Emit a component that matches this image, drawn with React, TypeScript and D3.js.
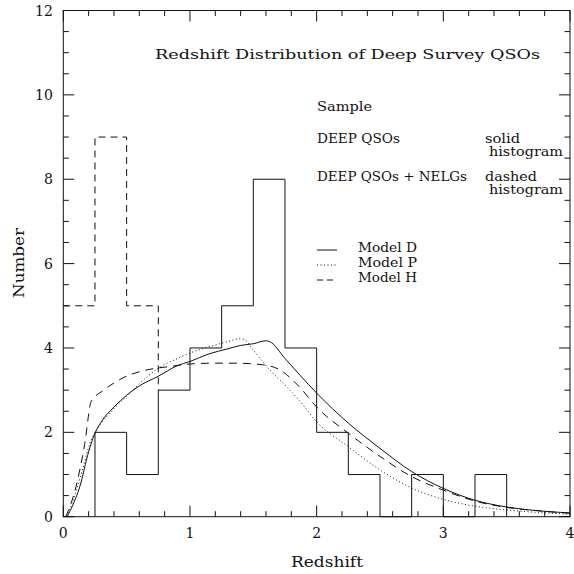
import React from 'react';
import * as d3 from 'd3';

const width = 574;
const height = 574;
const margin = { top: 10.5, right: 4, bottom: 57.3, left: 63.3 };
const ink = '#111';
const font = '"DejaVu Serif", serif';

// histogram bins (left edges, width 0.25 in redshift)
const solidEdges = [0.25, 0.5, 0.75, 1.0, 1.25, 1.5, 1.75, 2.0, 2.25, 2.5, 2.75, 3.0, 3.25, 3.5];
const solidCounts = [2, 1, 3, 4, 5, 8, 4, 2, 1, 0, 1, 0, 1, 0];
const dashedEdges = [0, 0.25, 0.5, 0.75];
const dashedCounts = [5, 9, 5, 3];

// model curves [redshift, number]
const modelD: [number, number][] = [
  [0.03, 0], [0.07, 0.24], [0.13, 0.71], [0.2, 1.54], [0.25, 1.98], [0.3, 2.25], [0.4, 2.6],
  [0.5, 2.88], [0.6, 3.1], [0.75, 3.33], [0.9, 3.58], [1.0, 3.68], [1.15, 3.86], [1.3, 3.98],
  [1.4, 4.06], [1.5, 4.1], [1.6, 4.17], [1.63, 4.15], [1.75, 3.75], [1.87, 3.35], [2.0, 2.93],
  [2.25, 2.22], [2.5, 1.62], [2.75, 1.07], [3.0, 0.67], [3.25, 0.39], [3.5, 0.23], [3.75, 0.14],
  [4.0, 0.09],
];
const modelP: [number, number][] = [
  [0.03, 0], [0.1, 0.6], [0.15, 1.1], [0.21, 1.74], [0.29, 2.18], [0.39, 2.53], [0.5, 2.85],
  [0.6, 3.15], [0.75, 3.52], [0.9, 3.75], [1.0, 3.88], [1.2, 4.07], [1.3, 4.15], [1.39, 4.22],
  [1.43, 4.2], [1.5, 3.95], [1.63, 3.48], [1.76, 3.09], [1.87, 2.73], [2.0, 2.25], [2.25, 1.66],
  [2.5, 1.11], [2.75, 0.68], [3.0, 0.41], [3.25, 0.25], [3.5, 0.16], [3.75, 0.1], [4.0, 0.06],
];
const modelH: [number, number][] = [
  [0.02, 0], [0.1, 0.71], [0.17, 1.74], [0.22, 2.73], [0.32, 3.0], [0.47, 3.29], [0.66, 3.48],
  [0.84, 3.56], [1.0, 3.62], [1.2, 3.64], [1.34, 3.64], [1.58, 3.6], [1.71, 3.48], [1.86, 3.09],
  [2.0, 2.6], [2.25, 1.98], [2.5, 1.43], [2.75, 0.95], [3.0, 0.63], [3.25, 0.37], [3.5, 0.22],
  [3.75, 0.14], [4.0, 0.08],
];

const xTicks = [0, 1, 2, 3, 4];
const yTicks = [0, 2, 4, 6, 8, 10, 12];
const xMinor = d3.range(0, 4.001, 0.2);
const yMinor = d3.range(0, 12.001, 0.5);

const title = 'Redshift Distribution of Deep Survey QSOs';
const sampleRows = [
  { label: 'DEEP QSOs', kind: 'solid' },
  { label: 'DEEP QSOs + NELGs', kind: 'dashed' },
];
const modelRows = [
  { label: 'Model D', dash: 'none' },
  { label: 'Model P', dash: '1,2.5' },
  { label: 'Model H', dash: '6,4' },
];

const x = d3.scaleLinear().domain([0, 4]).range([margin.left, width - margin.right]);
const y = d3.scaleLinear().domain([0, 12]).range([height - margin.bottom, margin.top]);

const stepLine = d3.line<[number, number]>()
  .x((d) => x(d[0]))
  .y((d) => y(d[1]))
  .curve(d3.curveStepAfter);
const modelLine = d3.line<[number, number]>()
  .x((d) => x(d[0]))
  .y((d) => y(d[1]))
  .curve(d3.curveMonotoneX);

export default function App() {
  // solid histogram starts from the baseline at its first edge
  const solidPts: [number, number][] = [[solidEdges[0], 0]];
  solidEdges.forEach((e, i) => solidPts.push([e, solidCounts[i]]));
  const dashedPts: [number, number][] = dashedEdges.map((e, i) => [e, dashedCounts[i]]);

  const x0 = x(0), x1 = x(4), y0 = y(0), y1 = y(12);

  return (
    <svg
      width={width}
      height={height}
      style={{ position: 'absolute', left: 0, top: 0, background: '#fff' }}
      fontFamily={font}
      fill={ink}
    >
      {/* frame */}
      <rect x={x0} y={y1} width={x1 - x0} height={y0 - y1} fill="none" stroke={ink} strokeWidth={1} />

      {/* ticks, inward on all four sides */}
      <g stroke={ink} strokeWidth={1}>
        {xMinor.map((t) => {
          const major = Math.abs(t - Math.round(t)) < 1e-6;
          const len = major ? 11 : 5.5;
          return (
            <g key={'xt' + t}>
              <line x1={x(t)} x2={x(t)} y1={y0} y2={y0 - len} />
              <line x1={x(t)} x2={x(t)} y1={y1} y2={y1 + len} />
            </g>
          );
        })}
        {yMinor.map((t) => {
          const major = Math.abs(t / 2 - Math.round(t / 2)) < 1e-6;
          const len = major ? 11 : 5.5;
          return (
            <g key={'yt' + t}>
              <line x1={x0} x2={x0 + len} y1={y(t)} y2={y(t)} />
              <line x1={x1} x2={x1 - len} y1={y(t)} y2={y(t)} />
            </g>
          );
        })}
      </g>

      {/* tick labels */}
      <g fontSize={14}>
        {xTicks.map((t) => (
          <text key={'xl' + t} x={x(t)} y={y0 + 21.5} textAnchor="middle">{t}</text>
        ))}
        {yTicks.map((t) => (
          <text key={'yl' + t} x={x0 - 10.5} y={y(t) + 5} textAnchor="end">{t}</text>
        ))}
      </g>

      {/* axis titles */}
      <text x={327} y={567} fontSize={14} textAnchor="middle" textLength={72} lengthAdjust="spacingAndGlyphs">Redshift</text>
      <text transform={`translate(24, 263) rotate(-90)`} fontSize={14} textAnchor="middle" textLength={70} lengthAdjust="spacingAndGlyphs">Number</text>

      {/* histograms */}
      <path d={stepLine(solidPts) ?? ''} fill="none" stroke={ink} strokeWidth={1} />
      <path d={stepLine(dashedPts) ?? ''} fill="none" stroke={ink} strokeWidth={1} strokeDasharray="7,5" />

      {/* models */}
      <path d={modelLine(modelD) ?? ''} fill="none" stroke={ink} strokeWidth={1} />
      <path d={modelLine(modelP) ?? ''} fill="none" stroke={ink} strokeWidth={1} strokeDasharray="1,2.5" />
      <path d={modelLine(modelH) ?? ''} fill="none" stroke={ink} strokeWidth={1} strokeDasharray="8,6" />

      {/* title and legend */}
      <text x={155} y={59} fontSize={13} textLength={385} lengthAdjust="spacingAndGlyphs">{title}</text>
      <g fontSize={12}>
        <text x={317} y={111} textLength={55} lengthAdjust="spacingAndGlyphs">Sample</text>
        {sampleRows.map((r, i) => {
          const by = 143 + i * 38;
          return (
            <g key={r.label}>
              <text x={317} y={by} textLength={i === 0 ? 83 : 150} lengthAdjust="spacingAndGlyphs">{r.label}</text>
              <text x={485} y={by} textLength={i === 0 ? 35 : 52} lengthAdjust="spacingAndGlyphs">{r.kind}</text>
              <text x={489} y={by + 13} textLength={74} lengthAdjust="spacingAndGlyphs">histogram</text>
            </g>
          );
        })}
        {modelRows.map((r, i) => {
          const by = 252 + i * 15;
          return (
            <g key={r.label}>
              <line x1={317} x2={337} y1={by - 2} y2={by - 2} stroke={ink} strokeWidth={1} strokeDasharray={r.dash === 'none' ? undefined : r.dash} />
              <text x={358} y={by} textLength={59} lengthAdjust="spacingAndGlyphs">{r.label}</text>
            </g>
          );
        })}
      </g>
    </svg>
  );
}
